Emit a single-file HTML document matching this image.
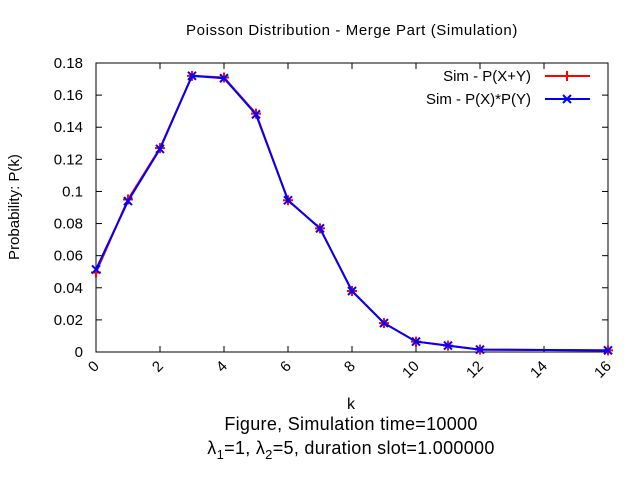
<!DOCTYPE html>
<html><head><meta charset="utf-8"><style>
body{margin:0;background:#fff;}
svg{font-family:"Liberation Sans",sans-serif;}
</style></head><body>
<svg id="chart" width="640" height="480" xmlns="http://www.w3.org/2000/svg">
<text x="352" y="35" font-size="15" letter-spacing="0.6" text-anchor="middle">Poisson Distribution - Merge Part (Simulation)</text>
<g id="axes"></g>
<g id="series"></g>
<g>
<text x="531" y="81" font-size="15" text-anchor="end">Sim - P(X+Y)</text>
<line x1="545" y1="76" x2="590" y2="76" stroke="#f00" stroke-width="2"/>
<line x1="567" y1="71" x2="567" y2="81" stroke="#f00" stroke-width="2"/>
<text x="531" y="104" font-size="15" text-anchor="end">Sim - P(X)*P(Y)</text>
<line x1="545" y1="99" x2="590" y2="99" stroke="#00f" stroke-width="2"/>
<path d="M563 95L571 103M571 95L563 103" stroke="#00f" stroke-width="2"/>
</g>
<text x="351" y="409" font-size="16" text-anchor="middle">k</text>
<text x="351" y="430" font-size="18" letter-spacing="0.3" text-anchor="middle">Figure, Simulation time=10000</text>
<text x="351" y="454" font-size="18" letter-spacing="0.3" text-anchor="middle">λ<tspan font-size="13" dy="5">1</tspan><tspan dy="-5">=1, λ</tspan><tspan font-size="13" dy="5">2</tspan><tspan dy="-5">=5, duration slot=1.000000</tspan></text>
<text transform="translate(19,207) rotate(-90)" font-size="15" text-anchor="middle">Probability: P(k)</text>
</svg>
<script>
const kValues=[0,1,2,3,4,5,6,7,8,9,10,11,12,16];
const sumValues=[0.0495,0.095,0.127,0.172,0.171,0.1485,0.0945,0.077,0.038,0.018,0.0065,0.004,0.0015,0.001];
const productValues=[0.0514,0.094,0.1265,0.172,0.1705,0.148,0.0945,0.077,0.038,0.018,0.0065,0.004,0.0015,0.001];
const xTicks=[0,2,4,6,8,10,12,14,16];
const yTicks=[0,0.02,0.04,0.06,0.08,0.1,0.12,0.14,0.16,0.18];
const yTickLabels=["0","0.02","0.04","0.06","0.08","0.1","0.12","0.14","0.16","0.18"];
const L=96,R=608,T=63,B=352;
const xs=k=>L+(k-0)/(16-0)*(R-L);
const ys=v=>B-v/0.18*(B-T);
const NS="http://www.w3.org/2000/svg";
function mk(tag,attrs,parent){const e=document.createElementNS(NS,tag);for(const a in attrs)e.setAttribute(a,attrs[a]);parent.appendChild(e);return e;}
const ax=document.getElementById('axes');
const frame=mk('rect',{x:L,y:T,width:R-L,height:B-T,fill:'none',stroke:'#000','stroke-width':1},ax);


xTicks.forEach(t=>{
  const x=xs(t);
  mk('line',{x1:x,y1:B,x2:x,y2:B-6,stroke:'#000'},ax);
  mk('line',{x1:x,y1:T,x2:x,y2:T+6,stroke:'#000'},ax);
  const tx=mk('text',{x:x+4,y:B+15,'font-size':15,'text-anchor':'end',transform:`rotate(-45 ${x+4} ${B+15})`},ax);
  tx.textContent=t;
  
  
});
yTicks.forEach((t,i)=>{
  const y=ys(t);
  mk('line',{x1:L,y1:y,x2:L+6,y2:y,stroke:'#000'},ax);
  mk('line',{x1:R,y1:y,x2:R-6,y2:y,stroke:'#000'},ax);
  const tx=mk('text',{x:L-13,y:y+5,'font-size':15,'text-anchor':'end'},ax);
  tx.textContent=yTickLabels[i];
  
  
});
const sg=document.getElementById('series');
function series(vals,color,name,marker){
  const pts=kValues.map((k,i)=>xs(k)+','+ys(vals[i])).join(' ');
  const pl=mk('polyline',{points:pts,fill:'none',stroke:color,'stroke-width':2},sg);
  
  
  kValues.forEach((k,i)=>{
    const x=xs(k),y=ys(vals[i]);
    const d=marker==='plus'?`M${x-5} ${y}L${x+5} ${y}M${x} ${y-5}L${x} ${y+5}`:`M${x-4} ${y-4}L${x+4} ${y+4}M${x+4} ${y-4}L${x-4} ${y+4}`;
    const p=mk('path',{d:d,stroke:color,'stroke-width':2,fill:'none'},sg);
    
    
  });
}
series(sumValues,'#f00','sum-series','plus');
series(productValues,'#00f','product-series','cross');
</script>
</body></html>
